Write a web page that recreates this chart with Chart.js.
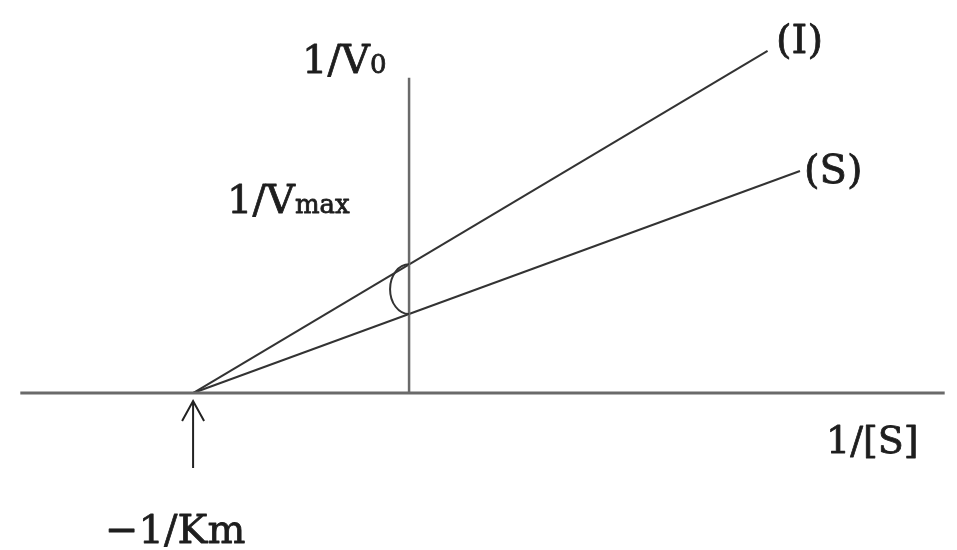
<!DOCTYPE html>
<html>
<head>
<meta charset="utf-8">
<script src="https://cdn.jsdelivr.net/npm/chart.js@4/dist/chart.umd.min.js"></script>
<style>
  html, body { margin: 0; padding: 0; background: #fff; }
  #wrap { width: 957px; height: 550px; position: relative; }
</style>
</head>
<body>
<div id="wrap"><canvas id="plot"></canvas></div>
<script>
// Lineweaver-Burk : 1/V0 en fonction de 1/[S], unités : -1/Km = -1, 1/Vmax (S) = 1
const minusInvKm = -1;
const invVmaxS = 1;
const invVmaxI = 1.63;

// droites (x = 1/[S], y = 1/V0)
const lineSX = [-1, 1.81];
const lineSY = [0, 2.81];
const lineIX = [-1, 1.66];
const lineIY = [0, 4.33];

// axes
const xAxisX = [-1.80, 2.48];
const xAxisY = [0, 0];
const yAxisX = [0, 0];
const yAxisY = [0, 3.99];

const toPoints = (xs, ys) => xs.map((x, i) => ({ x: x, y: ys[i] }));

const SERIF = '"DejaVu Serif", "Liberation Serif", serif';
const INK = '#1e1e1e';

// annotations : arc, flèche et textes
const annotations = {
    id: 'annotations',
    afterDatasetsDraw(chart) {
        const ctx = chart.ctx;
        const xs = chart.scales.x, ys = chart.scales.y;
        const x0 = xs.getPixelForValue(0);
        const y0 = ys.getPixelForValue(0);
        const xKm = xs.getPixelForValue(minusInvKm);
        const yI = ys.getPixelForValue(invVmaxI);
        const yS = ys.getPixelForValue(invVmaxS);

        ctx.save();
        // petit arc entre les deux ordonnées à l'origine
        ctx.strokeStyle = '#333';
        ctx.lineWidth = 2;
        ctx.beginPath();
        ctx.ellipse(x0, (yI + yS) / 2, 19, (yS - yI) / 2, 0, Math.PI / 2, Math.PI * 1.5);
        ctx.stroke();

        // flèche vers -1/Km
        ctx.strokeStyle = '#222';
        ctx.lineWidth = 2;
        ctx.beginPath();
        ctx.moveTo(xKm, y0 + 75);
        ctx.lineTo(xKm, y0 + 8);
        ctx.moveTo(xKm - 11, y0 + 28);
        ctx.lineTo(xKm, y0 + 8);
        ctx.lineTo(xKm + 11, y0 + 28);
        ctx.stroke();

        // textes (léger contour pour épaissir comme la police d'origine)
        ctx.fillStyle = INK;
        ctx.strokeStyle = INK;
        ctx.lineWidth = 0.8;
        ctx.lineJoin = 'round';
        ctx.textBaseline = 'alphabetic';
        ctx.textAlign = 'left';

        const txt = (s, x, y) => { ctx.fillText(s, x, y); ctx.strokeText(s, x, y); };
        const withSub = (main, sub, x, y, size, subSize) => {
            ctx.font = size + 'px ' + SERIF;
            txt(main, x, y);
            const w = ctx.measureText(main).width;
            ctx.font = subSize + 'px ' + SERIF;
            txt(sub, x + w, y);
        };

        withSub('1/V', '0', x0 - 107, y0 - 320, 40, 26);
        withSub('1/V', 'max', x0 - 182, y0 - 180, 40, 26);

        ctx.font = '40px ' + SERIF;
        txt('(I)', 776, 53);
        txt('(S)', 804, 183);
        ctx.font = '38px ' + SERIF;
        txt('1/[S]', 826, y0 + 60);
        ctx.font = '40px ' + SERIF;
        txt('\u22121/Km', xKm - 88, y0 + 150);
        ctx.restore();
    }
};

new Chart(document.getElementById('plot').getContext('2d'), {
    type: 'scatter',
    data: {
        datasets: [
            { data: toPoints(xAxisX, xAxisY), borderColor: '#6a6a6a', borderWidth: 3 },
            { data: toPoints(yAxisX, yAxisY), borderColor: '#6a6a6a', borderWidth: 2.5 },
            { data: toPoints(lineIX, lineIY), borderColor: '#333', borderWidth: 2 },
            { data: toPoints(lineSX, lineSY), borderColor: '#333', borderWidth: 2 }
        ].map(d => Object.assign(d, { showLine: true, pointRadius: 0, fill: false }))
    },
    options: {
        responsive: true,
        maintainAspectRatio: false,
        animation: false,
        layout: { padding: 0 },
        plugins: { legend: { display: false }, tooltip: { enabled: false } },
        scales: {
            x: { type: 'linear', display: false, min: -1.894, max: 2.537 },
            y: { type: 'linear', display: false, min: -1.987, max: 4.975 }
        }
    },
    plugins: [annotations]
});
</script>
</body>
</html>
